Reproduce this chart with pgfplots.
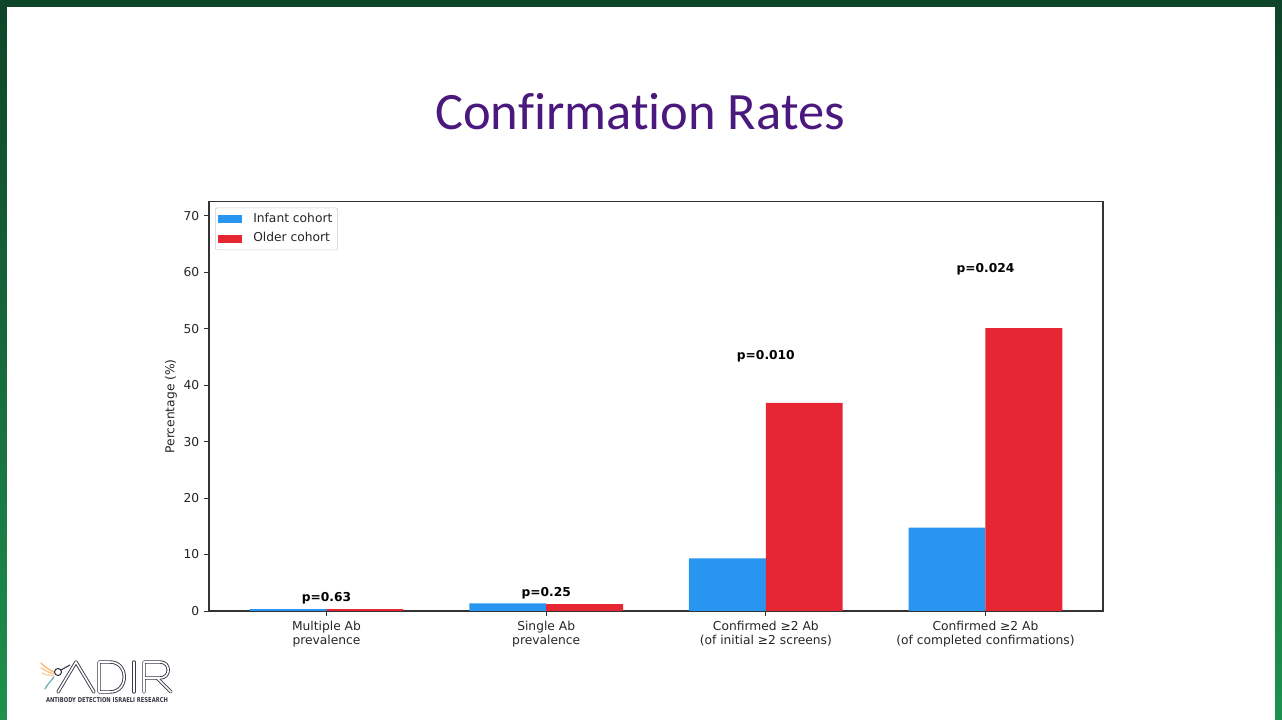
\documentclass[border=0pt]{standalone}
\usepackage{pgfplots}
\pgfplotsset{compat=1.18}
\usepackage{fontspec}
\setmainfont{DejaVu Sans}
\newfontfamily\titlefont{Carlito}[Ligatures=NoCommon]
\definecolor{infant}{RGB}{40,150,240}
\definecolor{older}{RGB}{230,38,50}
\definecolor{titlepurple}{RGB}{75,25,125}
\definecolor{framedark}{RGB}{14,68,40}
\definecolor{framelight}{RGB}{30,145,78}
\definecolor{logogray}{RGB}{55,55,70}
\begin{document}
\begin{tikzpicture}[x=0.75pt,y=0.75pt]
% slide frame
\shade[top color=framedark,bottom color=framelight] (0,0) rectangle (1282,720);
\fill[white] (7,0) rectangle (1275,713);
% title
\node[anchor=base,font=\titlefont\fontsize{39.4}{40}\selectfont,text=titlepurple,inner sep=0pt] at (640,590.5) {Confirmation Rates};
% logo
\begin{scope}[line cap=round,line join=round]
\foreach \w/\c in {3.4/logogray,1.6/white}{
\draw[line width=\w*0.75pt,\c] (58,28) -- (76,58) -- (94,28);
\draw[line width=\w*0.75pt,\c] (99,58) -- (110,58) .. controls (129,58) and (129,28) .. (110,28) -- (99,28) -- cycle;
\draw[line width=\w*0.75pt,\c] (134,58) -- (134,28);
\draw[line width=\w*0.75pt,\c] (144,28) -- (144,58) -- (160,58) .. controls (171,58) and (171,42) .. (160,42) -- (144,42);
\draw[line width=\w*0.75pt,\c] (157,42) -- (171,28);
}
\draw[line width=0.9pt,orange!60] (41,57) .. controls (46,52) and (50,50) .. (54,48);
\draw[line width=0.9pt,orange!50] (41,52) .. controls (46,49) and (50,47) .. (54,46);
\draw[line width=0.9pt,orange!40] (42,47) .. controls (47,45) and (50,44) .. (54,44);
\draw[line width=0.8pt,logogray] (58,48) circle (3.5);
\draw[line width=0.8pt,logogray] (61,50) -- (70,55);
\draw[line width=0.9pt,teal!60] (54,43) .. controls (50,38) and (47,35) .. (45,31);
\end{scope}
\node[font=\bfseries\fontsize{5}{5}\selectfont,text=logogray,xscale=0.78,inner sep=0pt] at (107,20) {ANTIBODY DETECTION ISRAELI RESEARCH};
% chart
\begin{axis}[
  at={(156.75pt,81.75pt)}, anchor=south west,
  scale only axis, width=670.5pt, height=307pt,
  xmin=-0.535, xmax=3.535, ymin=0, ymax=72.5,
  ybar, bar width=0.35,
  xtick={0,1,2,3},
  xticklabels={{Multiple Ab\\prevalence},{Single Ab\\prevalence},{Confirmed ≥2 Ab\\(of initial ≥2 screens)},{Confirmed ≥2 Ab\\(of completed confirmations)}},
  ytick={0,10,20,30,40,50,60,70},
  tick align=outside, tick pos=left,
  major tick length=3.75pt,
  every tick/.style={black!80,line width=0.6pt},
  axis line style={black!80,line width=0.8pt},
  /pgf/number format/assume math mode=true,
  tick label style={font=\fontsize{9.2}{10.5}\selectfont,text=black!85},
  xticklabel style={align=center},
  ylabel={Percentage (\%)},
  every axis y label/.style={at={(axis description cs:-0.0425,0.5)},rotate=90,anchor=center,font=\fontsize{9.2}{10.5}\selectfont,text=black!85},
  legend cell align=left,
  legend image code/.code={\fill[#1,draw=none,sharp corners] (0pt,-3pt) rectangle (18pt,3pt);},
  legend style={at={(axis description cs:0,1)},anchor=north west,xshift=4.5pt,yshift=-4.5pt,
    draw=black!20,rounded corners=1.5pt,fill=white,
    font=\fontsize{9.2}{10.5}\selectfont,text=black!85,
    inner xsep=2pt,inner ysep=2pt,row sep=1.5pt,
    /tikz/every odd column/.append style={column sep=6.5pt},
    nodes={inner sep=2pt,text height=7pt,text depth=2pt}},
]
\addplot[fill=infant,draw=none,bar shift=-0.175] coordinates {(0,0.33) (1,1.35) (2,9.34) (3,14.76)};
\addplot[fill=older,draw=none,bar shift=0.175] coordinates {(0,0.33) (1,1.2) (2,36.86) (3,50.1)};
\legend{Infant cohort,Older cohort}
\node[font=\bfseries\fontsize{9.2}{10.5}\selectfont] at (axis cs:0,2.25) {p=0.63};
\node[font=\bfseries\fontsize{9.2}{10.5}\selectfont] at (axis cs:1,3.14) {p=0.25};
\node[font=\bfseries\fontsize{9.2}{10.5}\selectfont] at (axis cs:2,45.2) {p=0.010};
\node[font=\bfseries\fontsize{9.2}{10.5}\selectfont] at (axis cs:3,60.6) {p=0.024};
\end{axis}
\end{tikzpicture}
\end{document}
